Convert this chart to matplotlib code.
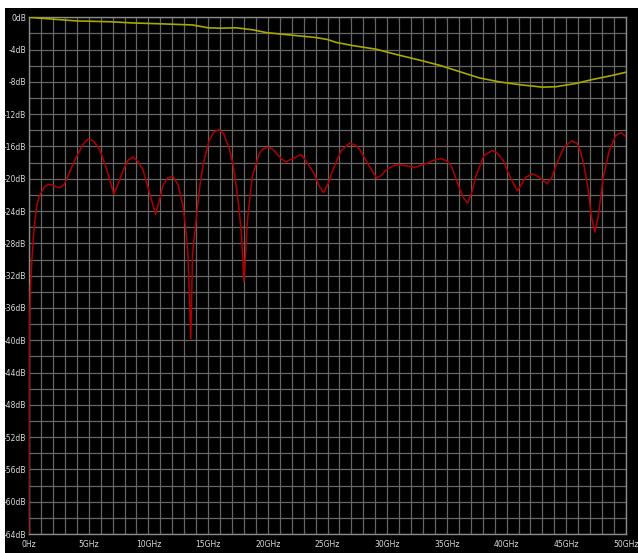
import matplotlib
matplotlib.use("Agg")
import matplotlib.pyplot as plt
from matplotlib.patches import Rectangle
from matplotlib.ticker import MultipleLocator

# Reflection trace (dB) vs frequency (GHz)
freq_s11 = [0.0, 0.05, 0.12, 0.28, 0.45, 0.64, 0.85, 1.06, 1.3, 1.6, 2.0, 2.3, 2.6,
            2.9, 3.15, 3.5, 4.0, 4.5, 4.96, 5.4, 5.93, 6.5, 7.1, 7.5, 7.9, 8.3, 8.7,
            9.1, 9.55, 10.1, 10.6, 10.9, 11.2, 11.6, 12.06, 12.5, 12.9, 13.1, 13.3,
            13.45, 13.55, 13.7, 14.0, 14.3, 14.6, 15.1, 15.5, 15.9, 16.3, 16.8, 17.1,
            17.35, 17.6, 17.8, 18.0, 18.15, 18.3, 18.7, 19.3, 19.6, 20.0, 20.4, 20.7,
            21.1, 21.5, 22.1, 22.8, 23.3, 23.9, 24.3, 24.67, 25.05, 25.45, 26.15,
            26.85, 27.3, 27.67, 28.37, 29.1, 29.5, 29.9, 30.5, 31.0, 31.6, 32.3, 33.3,
            33.9, 34.5, 35.0, 35.4, 36.0, 36.4, 36.74, 37.1, 37.4, 38.1, 38.8, 39.2,
            39.7, 40.3, 40.9, 41.2, 41.6, 42.2, 42.7, 43.4, 43.8, 44.1, 44.8, 45.46,
            45.9, 46.2, 46.5, 46.8, 47.1, 47.39, 47.67, 48.1, 48.6, 49.15, 49.6, 50.0]
s11_db = [-64.0, -38.0, -33.5, -29.2, -25.8, -23.4, -22.2, -21.6, -21.0, -20.7, -20.8,
          -21.0, -21.1, -20.8, -20.1, -18.8, -17.2, -15.8, -15.05, -15.3, -16.4, -18.8,
          -21.9, -20.5, -18.9, -17.7, -17.3, -17.8, -18.9, -21.8, -24.4, -22.8, -20.9,
          -19.9, -19.7, -20.8, -23.4, -25.8, -29.2, -35.0, -39.8, -29.2, -25.1, -21.0,
          -18.1, -15.2, -14.2, -13.9, -14.4, -16.4, -18.3, -20.9, -23.8, -27.1, -32.7,
          -29.0, -25.1, -19.7, -16.8, -16.3, -16.1, -16.3, -16.8, -17.5, -17.9, -17.5,
          -17.0, -18.0, -19.4, -20.9, -21.7, -20.6, -18.9, -16.5, -15.6, -15.8, -16.3,
          -18.1, -19.9, -19.6, -18.9, -18.4, -18.25, -18.4, -18.6, -18.1, -17.7, -17.5,
          -17.8, -18.5, -21.0, -22.4, -23.0, -21.6, -19.8, -17.1, -16.5, -16.8, -17.7,
          -19.8, -21.5, -20.8, -19.8, -19.4, -19.8, -20.6, -19.8, -18.5, -16.1, -15.3,
          -15.6, -16.7, -18.5, -21.0, -24.7, -26.6, -24.7, -19.8, -16.5, -14.6, -14.3,
          -14.8]

# Transmission trace (dB) vs frequency (GHz)
freq_s21 = [0.0, 1.75, 4.0, 6.8, 8.7, 10.9, 13.7, 15.0, 15.96, 17.35, 18.75, 19.9,
            21.25, 22.6, 24.0, 25.0, 25.7, 27.1, 29.07, 30.74, 32.7, 34.4, 36.0, 37.7,
            39.4, 41.1, 43.0, 44.1, 45.8, 47.2, 48.85, 50.0]
s21_db = [0.0, -0.2, -0.45, -0.55, -0.7, -0.8, -0.95, -1.3, -1.35, -1.3, -1.55, -1.9,
          -2.1, -2.3, -2.5, -2.75, -3.1, -3.5, -3.95, -4.6, -5.3, -5.95, -6.7, -7.5,
          -8.0, -8.35, -8.65, -8.6, -8.2, -7.7, -7.2, -6.8]

x_ticks = list(range(0, 51, 5))
x_labels = ["0Hz"] + [f"{v}GHz" for v in x_ticks[1:]]
y_ticks = list(range(0, -65, -4))
y_labels = [f"{v}dB" for v in y_ticks]

W, H = 638, 553
fig = plt.figure(figsize=(W / 100, H / 100), dpi=100, facecolor="white")
fig.patches.append(Rectangle((5 / W, 0), 1, (H - 8) / H, transform=fig.transFigure,
                             facecolor="black", edgecolor="none", zorder=-10))

ax = fig.add_axes([29 / W, 19 / H, 597 / W, 516.7 / H])
ax.set_facecolor("black")
ax.set_xlim(0, 50)
ax.set_ylim(-64, 0)

ax.set_xticks(x_ticks)
ax.set_xticklabels(x_labels)
ax.set_yticks(y_ticks)
ax.set_yticklabels(y_labels)
ax.xaxis.set_minor_locator(MultipleLocator(1))
ax.yaxis.set_minor_locator(MultipleLocator(2))
ax.grid(which="both", color="#666666", linewidth=0.9)
ax.set_axisbelow(True)
ax.tick_params(which="both", length=0, colors="#d8d8d8", labelsize=5.5)
ax.tick_params(axis="y", pad=2)
ax.tick_params(axis="x", pad=4)
for sp in ax.spines.values():
    sp.set_color("#8a8a8a")
    sp.set_linewidth(1.0)

ax.plot(freq_s21, s21_db, color="#a8a800", linewidth=1.2, zorder=3)
ax.plot(freq_s11, s11_db, color="#b00000", linewidth=1.1, zorder=4)

fig.savefig("out.png", dpi=100, facecolor=fig.get_facecolor())
